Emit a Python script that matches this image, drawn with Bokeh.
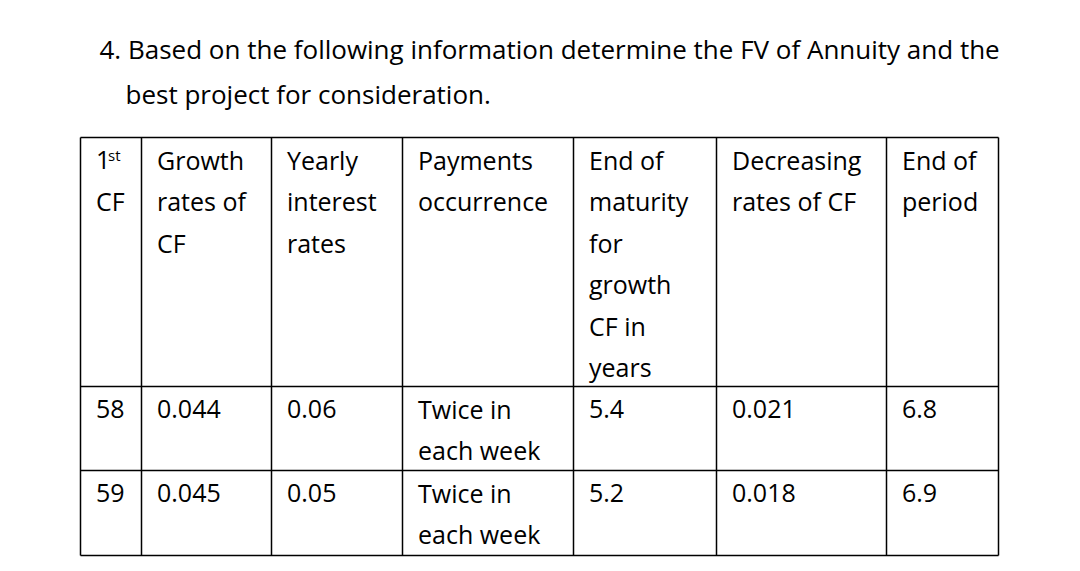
from bokeh.plotting import figure
from bokeh.models import Range1d, ColumnDataSource
from bokeh.core.properties import value
from bokeh.embed import file_html
from bokeh.resources import INLINE

# ---- data ----
title_lines = [
    "4. Based on the following information determine the FV of Annuity and the",
    "best project for consideration.",
]
header_lines = [
    ["1", "CF"],
    ["Growth", "rates of", "CF"],
    ["Yearly", "interest", "rates"],
    ["Payments", "occurrence"],
    ["End of", "maturity", "for", "growth", "CF in", "years"],
    ["Decreasing", "rates of CF"],
    ["End of", "period"],
]
first_cf = ["58", "59"]
growth_rates = ["0.044", "0.045"]
interest_rates = ["0.06", "0.05"]
payments = [["Twice in", "each week"], ["Twice in", "each week"]]
maturity_years = ["5.4", "5.2"]
decreasing_rates = ["0.021", "0.018"]
end_period = ["6.8", "6.9"]

# ---- layout ----
W, H = 1072, 563
col_edges = [80, 141, 271, 402, 573, 716, 886, 998]
row_edges = [137, 386, 470, 555]
pad_x = 15.5
first_line = 22.5
pitch = 41.4
FONT = "Open Sans"
FS = "25px"

p = figure(width=W, height=H, output_backend="svg", toolbar_location=None,
           x_range=Range1d(0, W), y_range=Range1d(H, 0),
           min_border=0)
p.axis.visible = False
p.grid.visible = False
p.outline_line_color = None
p.background_fill_color = "white"
p.border_fill_color = "white"

# grid lines
xs0, ys0, xs1, ys1 = [], [], [], []
for x in col_edges:
    xs0.append(x); xs1.append(x); ys0.append(row_edges[0]); ys1.append(row_edges[-1])
for y in row_edges:
    xs0.append(col_edges[0]); xs1.append(col_edges[-1]); ys0.append(y); ys1.append(y)
p.segment(xs0, ys0, xs1, ys1, line_color="black", line_width=1.5)

# title
p.text([99, 125], [48, 93], text=title_lines, text_font=value(FONT),
       text_font_size="26px", text_color="black", text_baseline="middle")

# cells
tx, ty, tt = [], [], []
for c, lines in enumerate(header_lines):
    for i, s in enumerate(lines):
        tx.append(col_edges[c] + pad_x); ty.append(row_edges[0] + first_line + i * pitch); tt.append(s)

columns = [first_cf, growth_rates, interest_rates, payments, maturity_years, decreasing_rates, end_period]
for r in range(2):
    for c, col in enumerate(columns):
        v = col[r]
        lines = v if isinstance(v, list) else [v]
        for i, s in enumerate(lines):
            tx.append(col_edges[c] + pad_x); ty.append(row_edges[r + 1] + first_line + i * pitch); tt.append(s)

src = ColumnDataSource(dict(x=tx, y=ty, text=tt))
p.text("x", "y", text="text", source=src, text_font=value(FONT), text_font_size=FS,
       text_color="black", text_baseline="middle")

# superscript "st"
p.text([col_edges[0] + pad_x + 12], [row_edges[0] + first_line - 5.5], text=["st"],
       text_font=value(FONT), text_font_size="15px", text_color="black", text_baseline="middle")

open("out.html", "w").write(file_html(p, INLINE))
